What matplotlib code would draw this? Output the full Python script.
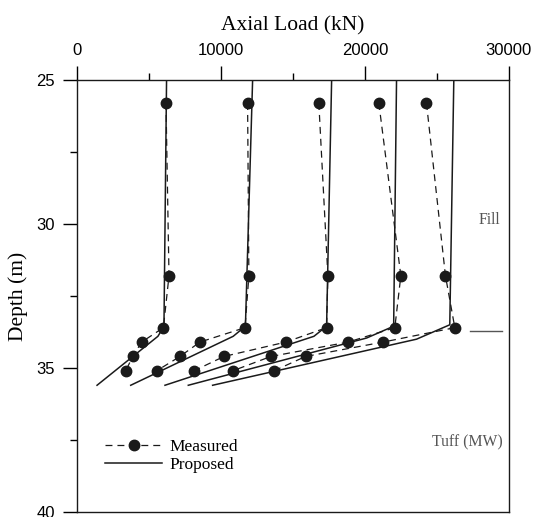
import matplotlib
matplotlib.use("Agg")
import matplotlib.pyplot as plt
from matplotlib.ticker import MultipleLocator

plt.rcParams['lines.scale_dashes'] = False

# measured depths (m) and loads (kN) for the five load steps
meas_depth = [25.8, 31.8, 33.6, 34.1, 34.6, 35.1]
meas_load = [
    [6180, 6390, 6000, 4490, 3870, 3380],
    [11850, 11940, 11670, 8540, 7150, 5530],
    [16800, 17430, 17340, 14510, 10210, 8120],
    [20970, 22500, 22080, 18840, 13470, 10810],
    [24280, 25600, 26250, 21270, 15880, 13680],
]

# proposed model curves
prop_depth = [
    [25, 33.55, 33.9, 35.6],
    [25, 33.55, 33.9, 35.6],
    [25, 33.55, 33.9, 35.6],
    [25, 33.55, 33.96, 35.6],
    [25, 33.5, 34.0, 35.6],
]
prop_load = [
    [6220, 6040, 5620, 1390],
    [12200, 11700, 10850, 3730],
    [17690, 17340, 16460, 6110],
    [22200, 22000, 20120, 7730],
    [26180, 25900, 23590, 9420],
]

# fill / tuff boundary marker
boundary_load = [27290, 29560]
boundary_depth = [33.7, 33.7]

serif = 'Liberation Serif'
sans = 'Liberation Sans'

fig = plt.figure(figsize=(5.35, 5.17), dpi=100)
ax = fig.add_axes([0.144, 0.0097, 0.807, 0.8356])

for i in range(len(meas_load)):
    ax.plot(meas_load[i], meas_depth, color='#1a1a1a', lw=0.9, dashes=(5, 3.6),
            marker='o', markersize=7.5, markerfacecolor='#1a1a1a',
            markeredgecolor='#1a1a1a', label='Measured' if i == 0 else None)
    ax.plot(prop_load[i], prop_depth[i], color='#1a1a1a', lw=1.1,
            label='Proposed' if i == 0 else None)

ax.plot(boundary_load, boundary_depth, color='#555555', lw=1.0)

ax.text(29370, 29.85, 'Fill', family=serif, fontsize=11.3, color='#555555',
        ha='right', va='center')
ax.text(29560, 37.57, 'Tuff (MW)', family=serif, fontsize=11.3, color='#555555',
        ha='right', va='center')

ax.set_xlim(0, 30000)
ax.set_ylim(40, 25)

ax.xaxis.set_ticks_position('top')
ax.xaxis.set_label_position('top')
ax.xaxis.set_major_locator(MultipleLocator(10000))
ax.xaxis.set_minor_locator(MultipleLocator(5000))
ax.yaxis.set_major_locator(MultipleLocator(5))
ax.yaxis.set_minor_locator(MultipleLocator(2.5))
ax.tick_params(which='major', direction='out', length=10, width=1.0, labelsize=12, pad=6)
ax.tick_params(which='minor', direction='out', length=5, width=1.0)
ax.tick_params(axis='y', which='both', left=True, right=False)
ax.tick_params(axis='x', which='both', top=True, bottom=False)
for lab in ax.get_xticklabels() + ax.get_yticklabels():
    lab.set_family(sans)

ax.set_xlabel('Axial Load (kN)', family=serif, fontsize=15.5, labelpad=9)
ax.set_ylabel('Depth (m)', family=serif, fontsize=15.5, labelpad=6)

for s in ax.spines.values():
    s.set_linewidth(1.0)
    s.set_color('#1a1a1a')

leg = ax.legend(loc='upper left', bbox_to_anchor=(0.045, 0.19), frameon=False,
                prop={'family': serif, 'size': 12.5}, handlelength=3.3,
                handletextpad=0.4, labelspacing=0.1, borderpad=0)

fig.savefig('out.png', dpi=100)
